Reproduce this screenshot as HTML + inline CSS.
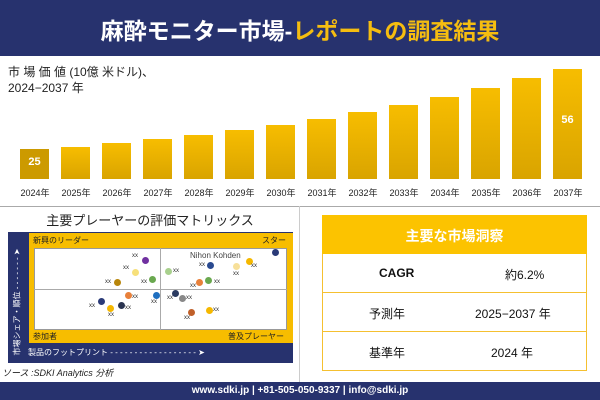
<!DOCTYPE html>
<html><head><meta charset="utf-8"><style>
body{margin:0;width:600px;height:400px;background:#fff;font-family:"Liberation Sans","Noto Sans CJK JP",sans-serif;position:relative;overflow:hidden}
.a{position:absolute}
.bar{position:absolute;width:29px;bottom:221px;background:linear-gradient(#f7bd00,#d9a400)}
.yr{position:absolute;top:186px;font-size:9px;width:40px;text-align:center;color:#222}
.d{position:absolute;width:7px;height:7px;border-radius:50%}
.x{position:absolute;font-size:6px;color:#333}
.row{position:absolute;left:322px;width:263px;height:38px;border-bottom:1px solid #f5c030;border-left:1px solid #f5c030;border-right:1px solid #f5c030;font-size:12px;color:#111}
.row span{position:absolute;top:12px}
</style></head><body>
<div class="a" style="left:0;top:0;width:600px;height:56px;background:#27326e"></div>
<div class="a" style="left:0;top:12px;width:600px;text-align:center;font-size:23px;font-weight:bold;color:#fff">麻酔モニター市場-<span style="color:#f5bd10">レポートの調査結果</span></div>
<div class="a" style="left:8px;top:64px;font-size:12px;color:#222;line-height:16px">市 場 価 値 (10億 米ドル)、<br>2024−2037 年</div>
<div class="bar" style="left:20px;height:30px;background:#cc9a00"></div>
<div class="bar" style="left:61px;height:32px"></div>
<div class="bar" style="left:102px;height:36px"></div>
<div class="bar" style="left:143px;height:40px"></div>
<div class="bar" style="left:184px;height:44px"></div>
<div class="bar" style="left:225px;height:49px"></div>
<div class="bar" style="left:266px;height:54px"></div>
<div class="bar" style="left:307px;height:60px"></div>
<div class="bar" style="left:348px;height:67px"></div>
<div class="bar" style="left:389px;height:74px"></div>
<div class="bar" style="left:430px;height:82px"></div>
<div class="bar" style="left:471px;height:91px"></div>
<div class="bar" style="left:512px;height:101px"></div>
<div class="bar" style="left:553px;height:110px"></div>
<div class="a" style="left:20px;top:156px;width:29px;text-align:center;color:#fff;font-weight:bold;font-size:11px">25</div>
<div class="a" style="left:553px;top:114px;width:29px;text-align:center;color:#fff;font-weight:bold;font-size:11px">56</div>
<div class="yr" style="left:15px">2024年</div><div class="yr" style="left:56px">2025年</div><div class="yr" style="left:97px">2026年</div><div class="yr" style="left:138px">2027年</div><div class="yr" style="left:179px">2028年</div><div class="yr" style="left:220px">2029年</div><div class="yr" style="left:261px">2030年</div><div class="yr" style="left:302px">2031年</div><div class="yr" style="left:343px">2032年</div><div class="yr" style="left:384px">2033年</div><div class="yr" style="left:425px">2034年</div><div class="yr" style="left:466px">2035年</div><div class="yr" style="left:507px">2036年</div><div class="yr" style="left:548px">2037年</div>
<div class="a" style="left:0;top:206px;width:600px;height:1px;background:#aaa"></div>
<div class="a" style="left:299px;top:206px;width:1px;height:176px;background:#ccc"></div>
<div class="a" style="left:0;top:210px;width:300px;text-align:center;font-size:13px;color:#222">主要プレーヤーの評価マトリックス</div>
<div class="a" style="left:8px;top:232px;width:285px;height:131px;background:#27326e"></div>
<div class="a" style="left:29px;top:233px;width:264px;height:110px;background:#f7bd00"></div>
<div class="a" style="left:34px;top:248px;width:253px;height:82px;background:#fff;border:1px solid #999;box-sizing:border-box"></div>
<div class="a" style="left:160px;top:248px;width:1px;height:82px;background:#aaa"></div>
<div class="a" style="left:34px;top:289px;width:253px;height:1px;background:#aaa"></div>
<div class="a" style="left:33px;top:235px;font-size:8px;color:#222">新興のリーダー</div>
<div class="a" style="left:262px;top:235px;font-size:8px;color:#222">スター</div>
<div class="a" style="left:33px;top:331px;font-size:8px;color:#222">参加者</div>
<div class="a" style="left:228px;top:331px;font-size:8px;color:#222">普及プレーヤー</div>
<div class="a" style="left:28px;top:347px;font-size:8px;color:#fff">製品のフットプリント - - - - - - - - - - - - - - - - - - ➤</div>
<div class="a" style="left:-38px;top:295px;width:110px;transform:rotate(-90deg);font-size:8px;color:#fff;white-space:nowrap">市場シェア・順位 - - - - - - - ➤</div>
<div class="a" style="left:190px;top:251px;font-size:8px;color:#444">Nihon Kohden</div>
<div class="d" style="left:272px;top:249px;background:#2a3a78"></div>
<div class="d" style="left:246px;top:258px;background:#f5b800"></div>
<div class="d" style="left:233px;top:263px;background:#f7e09a"></div>
<div class="d" style="left:207px;top:262px;background:#2a4a90"></div>
<div class="d" style="left:205px;top:277px;background:#6aa84f"></div>
<div class="d" style="left:196px;top:279px;background:#e8803a"></div>
<div class="d" style="left:165px;top:268px;background:#a8d08d"></div>
<div class="d" style="left:149px;top:276px;background:#6aa84f"></div>
<div class="d" style="left:142px;top:257px;background:#7030a0"></div>
<div class="d" style="left:132px;top:269px;background:#f7e07a"></div>
<div class="d" style="left:114px;top:279px;background:#b8860b"></div>
<div class="d" style="left:125px;top:292px;background:#e8803a"></div>
<div class="d" style="left:153px;top:292px;background:#1f6fc0"></div>
<div class="d" style="left:98px;top:298px;background:#2a3a78"></div>
<div class="d" style="left:107px;top:305px;background:#f5b800"></div>
<div class="d" style="left:118px;top:302px;background:#2a3450"></div>
<div class="d" style="left:172px;top:290px;background:#2a3a60"></div>
<div class="d" style="left:179px;top:295px;background:#888"></div>
<div class="d" style="left:188px;top:309px;background:#c0602a"></div>
<div class="d" style="left:206px;top:307px;background:#f5b800"></div>
<div class="x" style="left:132px;top:253px">xx</div><div class="x" style="left:123px;top:265px">xx</div><div class="x" style="left:105px;top:279px">xx</div><div class="x" style="left:141px;top:279px">xx</div>
<div class="x" style="left:199px;top:262px">xx</div><div class="x" style="left:251px;top:263px">xx</div><div class="x" style="left:233px;top:271px">xx</div><div class="x" style="left:173px;top:268px">xx</div>
<div class="x" style="left:214px;top:279px">xx</div><div class="x" style="left:190px;top:283px">xx</div><div class="x" style="left:132px;top:294px">xx</div><div class="x" style="left:151px;top:299px">xx</div>
<div class="x" style="left:89px;top:303px">xx</div><div class="x" style="left:108px;top:312px">xx</div><div class="x" style="left:125px;top:305px">xx</div><div class="x" style="left:167px;top:295px">xx</div>
<div class="x" style="left:186px;top:295px">xx</div><div class="x" style="left:184px;top:315px">xx</div><div class="x" style="left:213px;top:307px">xx</div>
<div class="a" style="left:2px;top:366px;font-size:9px;font-style:italic;color:#222">ソース :SDKI Analytics 分析</div>
<div class="a" style="left:322px;top:215px;width:265px;height:39px;background:#fcc300"></div>
<div class="a" style="left:322px;top:226px;width:265px;text-align:center;color:#fff;font-size:14px;font-weight:bold">主要な市場洞察</div>
<div class="row" style="top:254px"><span style="left:56px;font-weight:bold">CAGR</span><span style="left:182px">約6.2%</span></div>
<div class="row" style="top:293px"><span style="left:46px">予測年</span><span style="left:152px">2025−2037 年</span></div>
<div class="row" style="top:332px"><span style="left:46px">基準年</span><span style="left:168px">2024 年</span></div>
<div class="a" style="left:0;top:382px;width:600px;height:18px;background:#27326e"></div>
<div class="a" style="left:0;top:385px;width:600px;text-align:center;color:#fff;font-size:10px;font-weight:bold">www.sdki.jp | +81-505-050-9337 | info@sdki.jp</div>
</body></html>
